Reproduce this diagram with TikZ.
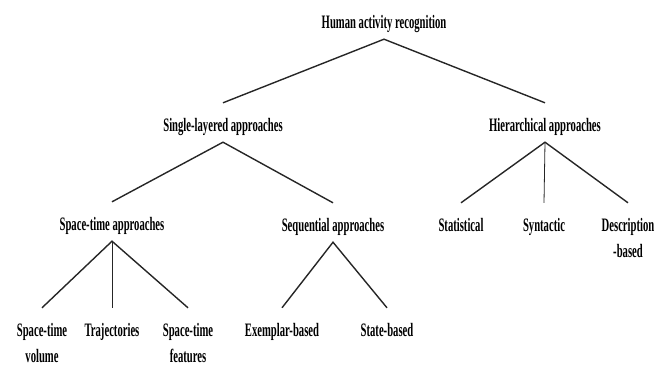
\documentclass[tikz,border=0pt]{standalone}
\usepackage{fontspec}
\newfontfamily\hfont{Liberation Serif}[FakeStretch=0.56]
\begin{document}
\begin{tikzpicture}[x=1pt,y=-1pt,
  lbl/.style={inner sep=0pt, anchor=base, align=center, text height=28pt,
    font=\hfont\bfseries\fontsize{19}{26}\selectfont},
  one/.style={lbl, text depth=11pt},
  two/.style={lbl, text height=54pt},
  edge/.style={line width=1.4pt, draw=black!85},
  vedge/.style={line width=0.8pt, draw=black!85}]
\useasboundingbox (0,0) rectangle (666,367);
\node[one] (root) at (384,28) {Human activity recognition};
\node[one] (single) at (223,131) {Single-layered approaches};
\node[one] (hier) at (545,131) {Hierarchical approaches};
\node[one] (stapp) at (112,230) {Space-time approaches};
\node[one] (seq) at (333,231) {Sequential approaches};
\node[one] (stat) at (461,231) {Statistical};
\node[one] (syn) at (544,231) {Syntactic};
\node[two] (desc) at (628,257) {Description\\-based};
\node[two] (stv) at (42,362) {Space-time\\volume};
\node[one] (traj) at (112,336) {Trajectories};
\node[two] (stf) at (188,362) {Space-time\\features};
\node[one] (exem) at (282,336) {Exemplar-based};
\node[one] (state) at (387,336) {State-based};
\draw[edge] (single.north) -- (root.south) -- (hier.north);
\draw[edge] (stapp.north) -- (single.south) -- (seq.north);
\draw[edge] (stat.north) -- (hier.south) -- (desc.north);
\draw[vedge] (hier.south) -- (syn.north);
\draw[edge] (stv.north) -- (stapp.south) -- (stf.north);
\draw[vedge] (stapp.south) -- (traj.north);
\draw[edge] (exem.north) -- (seq.south) -- (state.north);
\end{tikzpicture}
\end{document}
